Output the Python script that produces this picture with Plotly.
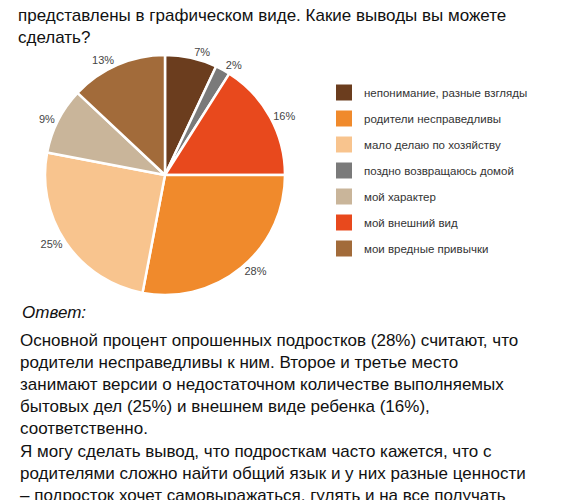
import plotly.graph_objects as go

pie_labels = ["непонимание, разные взгляды", "поздно возвращаюсь домой", "мой внешний вид",
              "родители несправедливы", "мало делаю по хозяйству", "мой характер", "мои вредные привычки"]
pie_values = [7, 2, 16, 28, 25, 9, 13]
pie_colors = ["#6b3d1e", "#7a7a7a", "#e8491d", "#f08a2c", "#f8c48e", "#c9b59a", "#a26b3a"]

legend_labels = ["непонимание, разные взгляды", "родители несправедливы", "мало делаю по хозяйству",
                 "поздно возвращаюсь домой", "мой характер", "мой внешний вид", "мои вредные привычки"]

W, H = 569, 500
fig = go.Figure()
fig.add_trace(go.Pie(labels=pie_labels, values=pie_values, sort=False, direction="clockwise",
                     rotation=0, marker=dict(colors=pie_colors, line=dict(color="white", width=2.5)),
                     texttemplate="%{value}%", textposition="outside",
                     textfont=dict(size=11, color="#444", family="Liberation Sans"),
                     showlegend=False, domain=dict(x=[37/W, 277/W], y=[1-287/H, 1-47/H])))
cmap = dict(zip(pie_labels, pie_colors))
for lab in legend_labels:
    fig.add_trace(go.Scatter(x=[None], y=[None], mode="markers", name=lab, legendgroup=lab,
                             marker=dict(symbol="square", size=18, color=cmap[lab])))

fig.add_annotation(x=8/W, y=1+4/H, xref="paper", yref="paper", xanchor="left", yanchor="top", align="left",
                   showarrow=False, text="представлены в графическом виде. Какие выводы вы можете<br>сделать?",
                   font=dict(size=17, color="#111"))
fig.add_annotation(x=12/W, y=1-293/H, xref="paper", yref="paper", xanchor="left", yanchor="top",
                   showarrow=False, text="<i>Ответ:</i>", font=dict(size=17, color="#111"))
body = ("Основной процент опрошенных подростков (28%) считают, что<br>"
        "родители несправедливы к ним. Второе и третье место<br>"
        "занимают версии о недостаточном количестве выполняемых<br>"
        "бытовых дел (25%) и внешнем виде ребенка (16%),<br>"
        "соответственно.<br>"
        "Я могу сделать вывод, что подросткам часто кажется, что с<br>"
        "родителями сложно найти общий язык и у них разные ценности<br>"
        "– подросток хочет самовыражаться, гулять и на все получать")
fig.add_annotation(x=10/W, y=1-321/H, xref="paper", yref="paper", xanchor="left", yanchor="top", align="left",
                   showarrow=False, text=body, font=dict(size=17, color="#111"))

fig.update_layout(width=W, height=H, margin=dict(l=0, r=0, t=0, b=0),
                  paper_bgcolor="white", plot_bgcolor="white",
                  font=dict(family="Liberation Sans"),
                  xaxis=dict(visible=False), yaxis=dict(visible=False),
                  legend=dict(x=316/W, y=1-70/H, xanchor="left", yanchor="top",
                              font=dict(size=11.5, color="#333"), tracegroupgap=7, itemwidth=30))
fig.write_html("out.html")
